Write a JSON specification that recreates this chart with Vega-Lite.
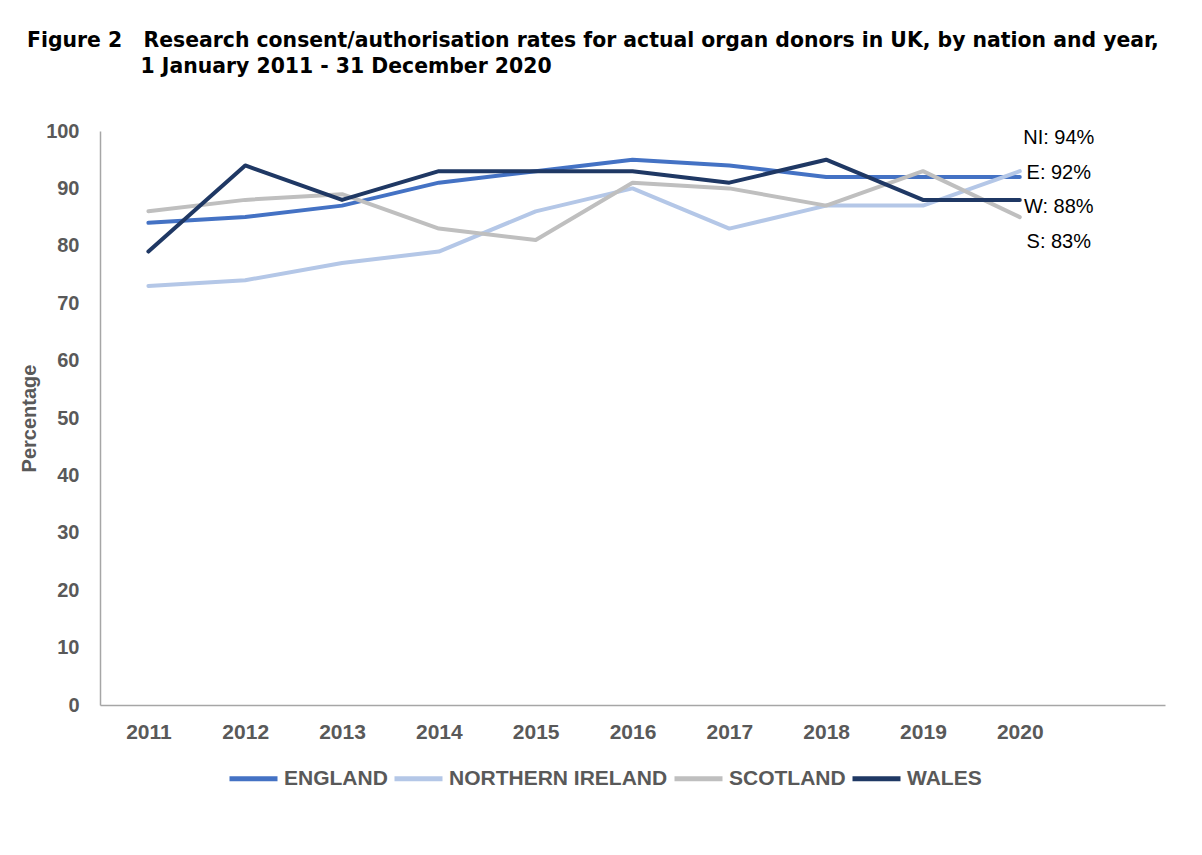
{
  "$schema": "https://vega.github.io/schema/vega-lite/v6.json",
  "width": 1065,
  "height": 574,
  "autosize": {"type": "none"},
  "padding": {"left": 100, "top": 131, "right": 37, "bottom": 150},
  "background": "white",
  "title": {
    "text": ["Figure 2\u00a0\u00a0\u00a0Research consent/authorisation rates for actual organ donors in UK, by nation and year,", "\u200b\u00a0\u00a0\u00a0\u00a0\u00a0\u00a0\u00a0\u00a0\u00a0\u00a0\u00a0\u00a0\u00a0\u00a0\u00a0\u00a01 January 2011 - 31 December 2020"],
    "anchor": "start",
    "frame": "group",
    "dx": -73,
    "offset": 44,
    "font": "DejaVu Sans",
    "fontSize": 20.4,
    "fontWeight": "bold",
    "color": "#000000",
    "lineHeight": 26
  },
  "config": {
    "view": {"stroke": null},
    "axis": {"grid": false, "ticks": false, "domainColor": "#A6A6A6", "domainWidth": 1.5, "labelFont": "Liberation Sans", "labelFontWeight": "bold", "labelColor": "#595959"}
  },
  "datasets": {
    "rates": [
      {"year": 2011, "nation": "ENGLAND", "rate": 84},
      {"year": 2012, "nation": "ENGLAND", "rate": 85},
      {"year": 2013, "nation": "ENGLAND", "rate": 87},
      {"year": 2014, "nation": "ENGLAND", "rate": 91},
      {"year": 2015, "nation": "ENGLAND", "rate": 93},
      {"year": 2016, "nation": "ENGLAND", "rate": 95},
      {"year": 2017, "nation": "ENGLAND", "rate": 94},
      {"year": 2018, "nation": "ENGLAND", "rate": 92},
      {"year": 2019, "nation": "ENGLAND", "rate": 92},
      {"year": 2020, "nation": "ENGLAND", "rate": 92},
      {"year": 2011, "nation": "NORTHERN IRELAND", "rate": 73},
      {"year": 2012, "nation": "NORTHERN IRELAND", "rate": 74},
      {"year": 2013, "nation": "NORTHERN IRELAND", "rate": 77},
      {"year": 2014, "nation": "NORTHERN IRELAND", "rate": 79},
      {"year": 2015, "nation": "NORTHERN IRELAND", "rate": 86},
      {"year": 2016, "nation": "NORTHERN IRELAND", "rate": 90},
      {"year": 2017, "nation": "NORTHERN IRELAND", "rate": 83},
      {"year": 2018, "nation": "NORTHERN IRELAND", "rate": 87},
      {"year": 2019, "nation": "NORTHERN IRELAND", "rate": 87},
      {"year": 2020, "nation": "NORTHERN IRELAND", "rate": 93},
      {"year": 2011, "nation": "SCOTLAND", "rate": 86},
      {"year": 2012, "nation": "SCOTLAND", "rate": 88},
      {"year": 2013, "nation": "SCOTLAND", "rate": 89},
      {"year": 2014, "nation": "SCOTLAND", "rate": 83},
      {"year": 2015, "nation": "SCOTLAND", "rate": 81},
      {"year": 2016, "nation": "SCOTLAND", "rate": 91},
      {"year": 2017, "nation": "SCOTLAND", "rate": 90},
      {"year": 2018, "nation": "SCOTLAND", "rate": 87},
      {"year": 2019, "nation": "SCOTLAND", "rate": 93},
      {"year": 2020, "nation": "SCOTLAND", "rate": 85},
      {"year": 2011, "nation": "WALES", "rate": 79},
      {"year": 2012, "nation": "WALES", "rate": 94},
      {"year": 2013, "nation": "WALES", "rate": 88},
      {"year": 2014, "nation": "WALES", "rate": 93},
      {"year": 2015, "nation": "WALES", "rate": 93},
      {"year": 2016, "nation": "WALES", "rate": 93},
      {"year": 2017, "nation": "WALES", "rate": 91},
      {"year": 2018, "nation": "WALES", "rate": 95},
      {"year": 2019, "nation": "WALES", "rate": 88},
      {"year": 2020, "nation": "WALES", "rate": 88}
    ],
    "labels": [
      {"year": 2020, "label": "NI: 94%", "pos": 98.8},
      {"year": 2020, "label": "E: 92%", "pos": 92.7},
      {"year": 2020, "label": "W: 88%", "pos": 86.8},
      {"year": 2020, "label": "S: 83%", "pos": 80.7}
    ]
  },
  "layer": [
    {
      "data": {"name": "rates"},
      "mark": {"type": "line", "strokeWidth": 4, "strokeCap": "round", "strokeJoin": "round"},
      "encoding": {
        "x": {"field": "year", "type": "quantitative", "scale": {"domain": [2010.5, 2021.5], "nice": false, "zero": false},
              "axis": {"values": [2011, 2012, 2013, 2014, 2015, 2016, 2017, 2018, 2019, 2020], "format": "d", "title": null, "labelPadding": 16, "labelFontSize": 21}},
        "y": {"field": "rate", "type": "quantitative", "scale": {"domain": [0, 100], "nice": false},
              "axis": {"values": [0, 10, 20, 30, 40, 50, 60, 70, 80, 90, 100], "title": "Percentage", "labelPadding": 21, "labelFontSize": 20, "titleFont": "Liberation Sans", "titleFontSize": 20, "titleFontWeight": "bold", "titleColor": "#595959", "titlePadding": 6}},
        "color": {"field": "nation", "type": "nominal",
                  "scale": {"domain": ["ENGLAND", "NORTHERN IRELAND", "SCOTLAND", "WALES"], "range": ["#4472C4", "#B4C7E7", "#BFBFBF", "#1F3864"]},
                  "legend": {"title": null, "orient": "none", "legendX": 127, "legendY": 621, "direction": "horizontal", "symbolType": "stroke", "symbolStrokeWidth": 5, "symbolSize": 2304, "labelFont": "Liberation Sans", "labelFontSize": 21, "labelFontWeight": "bold", "labelColor": "#595959", "labelLimit": 0, "columnPadding": -4, "labelOffset": 4}}
      }
    },
    {
      "data": {"name": "labels"},
      "mark": {"type": "text", "font": "Liberation Sans", "fontSize": 20, "align": "center", "baseline": "middle", "dx": 39, "color": "#000000"},
      "encoding": {
        "x": {"field": "year", "type": "quantitative"},
        "y": {"field": "pos", "type": "quantitative"},
        "text": {"field": "label"}
      }
    }
  ]
}
